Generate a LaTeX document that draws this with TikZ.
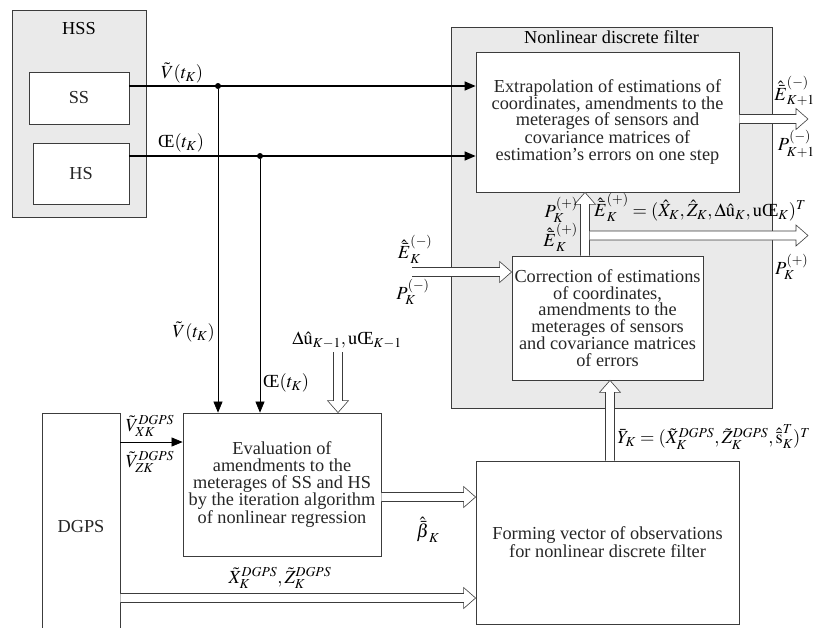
\documentclass[tikz,border=0pt]{standalone}
\usepackage{mathptmx}
\usepackage{fontspec}
\setmainfont{Liberation Serif}
\usetikzlibrary{positioning, arrows.meta, calc}

\definecolor{panel}{RGB}{234,234,234}
\definecolor{edge}{RGB}{60,60,60}

\begin{document}
\begin{tikzpicture}[x=1pt, y=-1pt,
			font=\fontsize{18.3}{16.8}\selectfont,
			frame/.style={rectangle, draw=edge, fill=panel, line width=0.8pt},
			block/.style={rectangle, draw=edge, fill=white, line width=0.8pt, align=center, inner sep=0pt, text=black!85},
			lbl/.style={inner sep=0pt, font=\fontsize{18.5}{18.5}\selectfont},
			arrow/.style={line width=0.7pt, -{Triangle[length=11pt, width=9pt]}},
			bus/.style={arrow, line width=1.3pt},
			hollow/.style={draw=edge, fill=white, line width=0.6pt, line join=miter, to path={
					let \p1=($(\tikztotarget)!12pt!(\tikztostart)$) in
					($(\tikztostart)!4.5pt!90:(\tikztotarget)$) -- ($(\p1)!4.5pt!-90:(\tikztostart)$) -- ($(\p1)!10.5pt!-90:(\tikztostart)$)
					-- (\tikztotarget) -- ($(\p1)!10.5pt!90:(\tikztostart)$) -- ($(\p1)!4.5pt!90:(\tikztostart)$) -- ($(\tikztostart)!4.5pt!-90:(\tikztotarget)$)}},
			dot/.style={circle, fill, inner sep=0pt, minimum size=6pt}
			]
			\useasboundingbox (0,0) rectangle (816,627);
			
			% HSS with its two sensors
			\node[frame, minimum width=134pt, minimum height=207pt] (hss) at (79,113.5) {};
			\node[below=9pt of hss.north] {HSS};
			\node[block, minimum width=100pt, minimum height=52pt] (ss) at (79,98) {SS};
			\node[block, minimum width=96pt, minimum height=61pt] (hs) at (81,173.5) {HS};
			
			% Nonlinear discrete filter with its two stages
			\node[frame, minimum width=321pt, minimum height=381pt] (ndf) at (611.5,217.5) {};
			\node[below=0pt of ndf.north] {Nonlinear discrete filter};
			\node[block, minimum width=263pt, minimum height=140pt] (extr) at (607.5,122) {Extrapolation of estimations of\\coordinates, amendments to the\\meterages of sensors and\\covariance matrices of\\estimation’s errors on one step};
			\node[block, minimum width=191pt, minimum height=124pt] (corr) at (607.5,318) {Correction of estimations\\of coordinates,\\amendments to the\\meterages of sensors\\and covariance matrices\\of errors};
			
			% Lower blocks
			\node[block, minimum width=198pt, minimum height=143pt] (eval) at (282,484.5) {Evaluation of\\amendments to the\\meterages of SS and HS\\by the iteration algorithm\\of nonlinear regression};
			\node[block, minimum width=78pt, minimum height=227pt] (dgps) at (81,526.5) {DGPS};
			\node[block, minimum width=263pt, minimum height=163pt] (form) at (607.5,542.5) {Forming vector of observations\\for nonlinear discrete filter};
			
			% Branch points and free ends
			\node[dot] (vd) at (218,86) {};
			\node[dot] (hd) at (260,156) {};
			\coordinate (du) at (338,352);
			\coordinate (vxz) at (0,442);
			\coordinate (bt) at (0,497);
			\coordinate (xz) at (0,598);
			\coordinate (cin) at (412,272);
			\coordinate (eout) at (808,119);
			\coordinate (bout) at (808,235.5);
			
			% Sensor outputs
			\draw[bus] (ss.east |- vd) -- (extr.west |- vd);
			\draw[bus] (hs.east |- hd) -- (extr.west |- hd);
			\draw[arrow] (vd) -- (vd |- eval.north);
			\draw[arrow] (hd) -- (hd |- eval.north);
			\node[lbl] at (182,73) {$\tilde{V}(t_K)$};
			\node[lbl] at (181,143) {$\mbox{Œ}(t_K)$};
			\node[lbl, anchor=east] at (215,332) {$\tilde{V}(t_K)$};
			\node[lbl, anchor=west] at (263,383) {$\mbox{Œ}(t_K)$};
			
			% Inputs of the evaluation block
			\draw[hollow] (du) to (du |- eval.north);
			\node[lbl] at (347,340) {$\Delta\hat{\mathrm{u}}_{K-1},\mathrm{u}\mbox{Œ}_{K-1}$};
			\draw[arrow] (dgps.east |- vxz) -- (eval.west |- vxz);
			\node[lbl] at (150,426) {$\tilde{V}_{XK}^{DGPS}$};
			\node[lbl] at (150,462) {$\tilde{V}_{ZK}^{DGPS}$};
			
			% Inputs of the forming block
			\draw[hollow] (eval.east |- bt) to (form.west |- bt);
			\node[lbl] at (428,530) {$\hat{\bar{\beta}}_K$};
			\draw[hollow] (dgps.east |- xz) to (form.west |- xz);
			\node[lbl] at (280,578) {$\tilde{X}_K^{DGPS},\tilde{Z}_K^{DGPS}$};
			
			% Observations to the correction stage
			\draw[hollow] ([xshift=2.5pt]form.north) to ([xshift=2.5pt]corr.south);
			\node[lbl, anchor=west] at (617,437) {$\bar{Y}_K=(\tilde{X}_K^{DGPS},\tilde{Z}_K^{DGPS},\hat{\bar{\mathrm{s}}}_K^T)^T$};
			\draw[hollow] (cin) to (cin -| corr.west);
			\node[lbl] at (415,249) {$\hat{\bar{E}}_K^{(-)}$};
			\node[lbl] at (413,292) {$P_K^{(-)}$};
			
			% Correction to extrapolation, and filter outputs
			\draw[hollow] ([xshift=-22.5pt]corr.north) to ([xshift=-22.5pt]corr.north |- extr.south);
			\draw[hollow] ([xshift=-18pt]corr.north |- bout) to (bout);
			\node[lbl, anchor=east] at (578,210) {$P_K^{(+)}$};
			\node[lbl, anchor=east] at (578,237) {$\hat{\bar{E}}_K^{(+)}$};
			\node[lbl, anchor=west] at (594,207) {$\hat{\bar{E}}_K^{(+)}=(\hat{X}_K,\hat{Z}_K,\Delta\hat{\mathrm{u}}_K,\mathrm{u}\mbox{Œ}_K)^T$};
			\node[lbl, anchor=west] at (775,267) {$P_K^{(+)}$};
			\draw[hollow] (extr.east |- eout) to (eout);
			\node[lbl, anchor=east] at (815,91) {$\hat{\bar{E}}_{K+1}^{(-)}$};
			\node[lbl, anchor=east] at (815,144) {$P_{K+1}^{(-)}$};
			
		\end{tikzpicture}
\end{document}
